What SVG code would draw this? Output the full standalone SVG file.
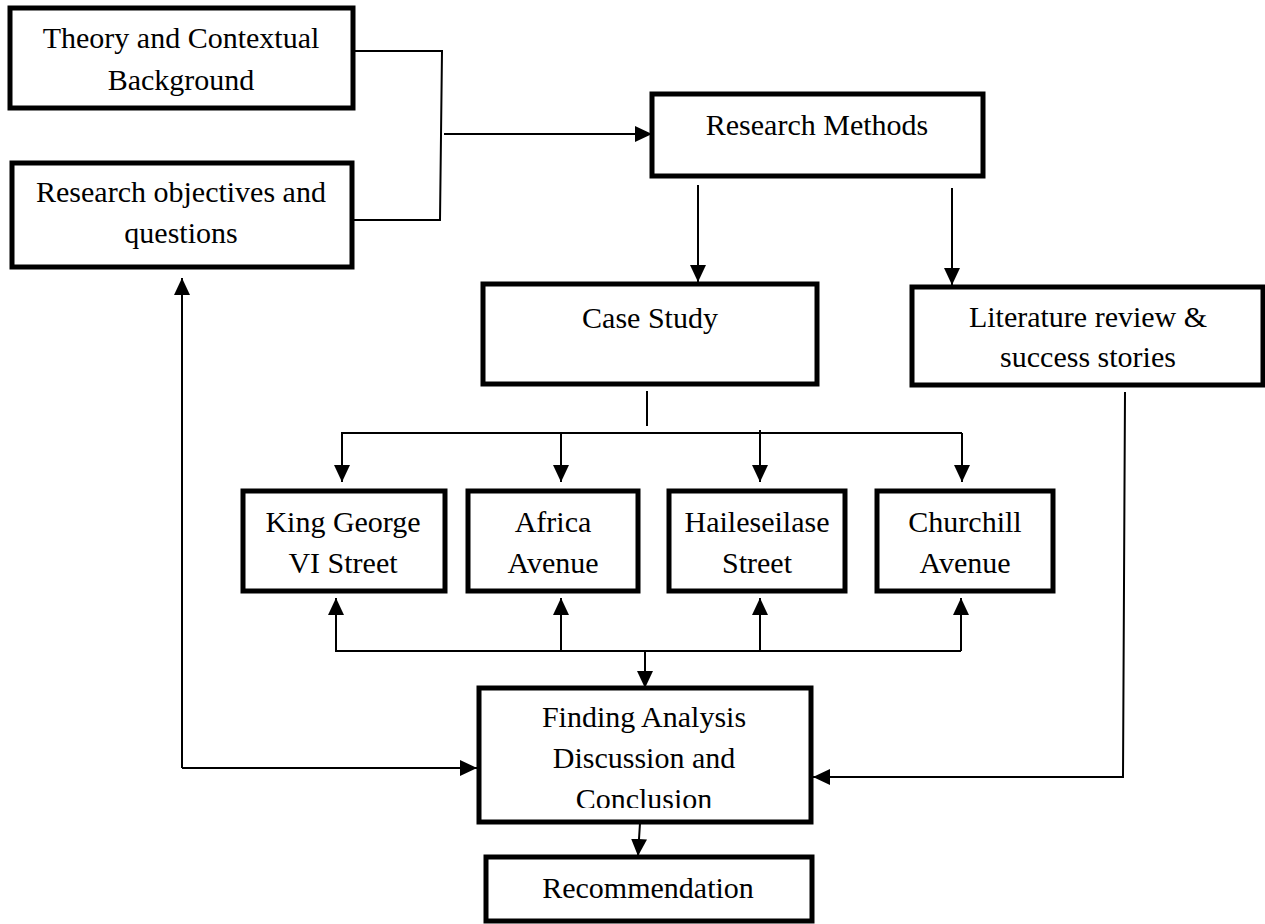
<svg xmlns="http://www.w3.org/2000/svg" width="1265" height="924" viewBox="0 0 1265 924">
<style>
.box{fill:#fff;stroke:#000;stroke-width:5}
.t{font-family:"Liberation Serif","Times New Roman",serif;font-size:30px;fill:#000;text-anchor:middle}
.c{fill:none;stroke:#000;stroke-width:2}
.a{marker-end:url(#ah)}
</style>
<defs>
<marker id="ah" markerUnits="userSpaceOnUse" markerWidth="18" markerHeight="16" refX="17" refY="8" orient="auto">
<path d="M0,0 L17,8 L0,16 z" fill="#000"/>
</marker>
<clipPath id="fclip"><rect x="479" y="688" width="332" height="120"/></clipPath>
</defs>
<rect width="1265" height="924" fill="#fff"/>
<g id="connectors">
<polyline class="c" points="353,51 442,51 440,220 352,220"/>
<line class="c a" x1="444" y1="134" x2="652" y2="134"/>
<line class="c a" x1="698" y1="185" x2="698" y2="282"/>
<line class="c a" x1="952" y1="188" x2="952" y2="285"/>
<line class="c" x1="647" y1="391" x2="647" y2="426"/>
<polyline class="c a" points="962,433 342,433 342,482"/>
<line class="c a" x1="561" y1="433" x2="561" y2="482"/>
<line class="c a" x1="760" y1="430" x2="760" y2="482"/>
<line class="c a" x1="962" y1="433" x2="962" y2="482"/>
<polyline class="c a" points="961,651 336,651 336,598"/>
<line class="c a" x1="561" y1="651" x2="561" y2="598"/>
<line class="c a" x1="760" y1="651" x2="760" y2="598"/>
<line class="c a" x1="961" y1="651" x2="961" y2="598"/>
<line class="c a" x1="645" y1="651" x2="645" y2="688"/>
<line class="c a" x1="182" y1="768" x2="182" y2="278"/>
<line class="c a" x1="182" y1="768" x2="477" y2="768"/>
<polyline class="c a" points="1125,392 1123,777 813,777"/>
<line class="c a" x1="640" y1="823" x2="638" y2="856"/>
</g>
<g id="theory"><rect class="box" x="10" y="8" width="343" height="100"/><text class="t" x="181" y="48">Theory and Contextual</text><text class="t" x="181" y="90">Background</text></g>
<g id="objectives"><rect class="box" x="12" y="163" width="340" height="104"/><text class="t" x="181" y="202">Research objectives and</text><text class="t" x="181" y="243">questions</text></g>
<g id="methods"><rect class="box" x="652" y="94" width="331" height="82"/><text class="t" x="817" y="135">Research Methods</text></g>
<g id="casestudy"><rect class="box" x="483" y="284" width="334" height="100"/><text class="t" x="650" y="328">Case Study</text></g>
<g id="literature"><rect class="box" x="912" y="287" width="351" height="98"/><text class="t" x="1088" y="327">Literature review &amp;</text><text class="t" x="1088" y="367">success stories</text></g>
<g id="kinggeorge"><rect class="box" x="243" y="491" width="202" height="100"/><text class="t" x="343" y="532">King George</text><text class="t" x="343" y="573">VI Street</text></g>
<g id="africa"><rect class="box" x="468" y="491" width="170" height="100"/><text class="t" x="553" y="532">Africa</text><text class="t" x="553" y="573">Avenue</text></g>
<g id="haileseilase"><rect class="box" x="669" y="491" width="176" height="100"/><text class="t" x="757" y="532">Haileseilase</text><text class="t" x="757" y="573">Street</text></g>
<g id="churchill"><rect class="box" x="877" y="491" width="176" height="100"/><text class="t" x="965" y="532">Churchill</text><text class="t" x="965" y="573">Avenue</text></g>
<g id="finding"><rect class="box" x="479" y="688" width="332" height="134"/><g clip-path="url(#fclip)"><text class="t" x="644" y="727">Finding Analysis</text><text class="t" x="644" y="768">Discussion and</text><text class="t" x="644" y="809">Conclusion</text></g></g>
<g id="recommendation"><rect class="box" x="486" y="857" width="326" height="64"/><text class="t" x="648" y="898">Recommendation</text></g>
</svg>
